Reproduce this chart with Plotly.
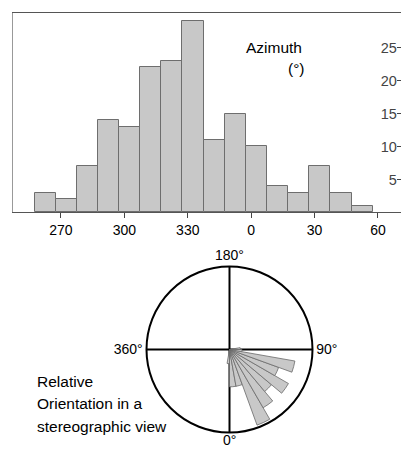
import plotly.graph_objects as go

# Histogram data (azimuth, 10-degree bins, unwrapped past 360)
bin_centers = [262.5, 272.5, 282.5, 292.5, 302.5, 312.5, 322.5, 332.5,
               342.5, 352.5, 362.5, 372.5, 382.5, 392.5, 402.5, 412.5]
counts = [3, 2, 7, 14, 13, 22, 23, 29, 11, 15, 10, 4, 3, 7, 3, 1]
x_tickvals = [270, 300, 330, 360, 390, 420]
x_ticktext = ["270", "300", "330", "0", "30", "60"]
y_tickvals = [5, 10, 15, 20, 25]

# Rose diagram (relative orientation)
rose_theta = [355, 5, 15, 25, 35, 45, 55, 65, 75, 85, 95]
rose_r = [0.17, 0.45, 0.45, 0.97, 0.81, 0.66, 0.82, 0.63, 0.80, 0.15, 0.13]
ang_tickvals = [0, 90, 180, 270]
ang_ticktext = ["", "90°", "180°", "360°"]

W, H = 401, 450
FONT = "Arial, Liberation Sans, sans-serif"

fig = go.Figure()
fig.add_trace(go.Bar(
    x=bin_centers, y=counts, width=10,
    marker=dict(color="#c8c8c8", line=dict(color="#6e6e6e", width=1)),
    xaxis="x", yaxis="y", showlegend=False,
))
fig.add_trace(go.Barpolar(
    theta=rose_theta, r=rose_r, width=[10] * len(rose_theta),
    marker=dict(color="#c8c8c8", line=dict(color="#6a6a6a", width=0.8)),
    subplot="polar", showlegend=False,
))

cx, cy, rad = 229.5, 349.5, 83
fig.update_layout(
    width=W, height=H,
    margin=dict(l=0, r=0, t=0, b=0),
    paper_bgcolor="white", plot_bgcolor="white",
    font=dict(family=FONT, color="black", size=14),
    bargap=0,
    xaxis=dict(
        domain=[13 / W, 1.0], range=[247.3, 430.9],
        tickmode="array", tickvals=x_tickvals, ticktext=x_ticktext,
        ticks="outside", ticklen=5, tickcolor="#444",
        showline=True, linecolor="#555", linewidth=1, mirror=True,
        showgrid=False, zeroline=False,
        tickfont=dict(size=14, family=FONT),
    ),
    yaxis=dict(
        domain=[1 - 212.4 / H, 1 - 13 / H], range=[0, 30.25],
        side="right", tickmode="array", tickvals=y_tickvals,
        ticks="inside", ticklen=4, tickcolor="#444",
        ticklabelposition="inside",
        showline=True, linecolor="#999", linewidth=1, mirror=True,
        showgrid=False, zeroline=False,
        tickfont=dict(size=14.5, family=FONT),
    ),
    polar=dict(
        domain=dict(x=[(cx - rad) / W, (cx + rad) / W],
                    y=[1 - (cy + rad) / H, 1 - (cy - rad) / H]),
        bgcolor="white",
        bargap=0,
        radialaxis=dict(range=[0, 1], showline=False, showticklabels=False,
                        showgrid=False, ticks=""),
        angularaxis=dict(
            rotation=270, direction="counterclockwise",
            tickmode="array", tickvals=ang_tickvals, ticktext=ang_ticktext,
            showline=True, linecolor="black", linewidth=2,
            showgrid=True, gridcolor="black", gridwidth=2,
            ticks="", tickfont=dict(size=14, family=FONT),
        ),
        barmode="overlay",
    ),
    annotations=[
        dict(text="Azimuth", x=304 / W, y=1 - 37 / H, xref="paper", yref="paper",
             showarrow=False, font=dict(size=15.5, family=FONT)),
        dict(text="(°)", x=307 / W, y=1 - 58 / H, xref="paper", yref="paper",
             showarrow=False, font=dict(size=15.5, family=FONT)),
        dict(text="0°", x=cx / W, y=0, xref="paper", yref="paper",
             yanchor="bottom", showarrow=False, font=dict(size=14, family=FONT)),
        dict(text="Relative", x=35 / W, y=1 - 392 / H, xref="paper", yref="paper",
             xanchor="left", showarrow=False, font=dict(size=15.5, family=FONT)),
        dict(text="Orientation in a", x=35 / W, y=1 - 414 / H, xref="paper", yref="paper",
             xanchor="left", showarrow=False, font=dict(size=15.5, family=FONT)),
        dict(text="stereographic view", x=35 / W, y=1 - 437 / H, xref="paper", yref="paper",
             xanchor="left", showarrow=False, font=dict(size=15.5, family=FONT)),
    ],
)

fig.write_html("out.html")
